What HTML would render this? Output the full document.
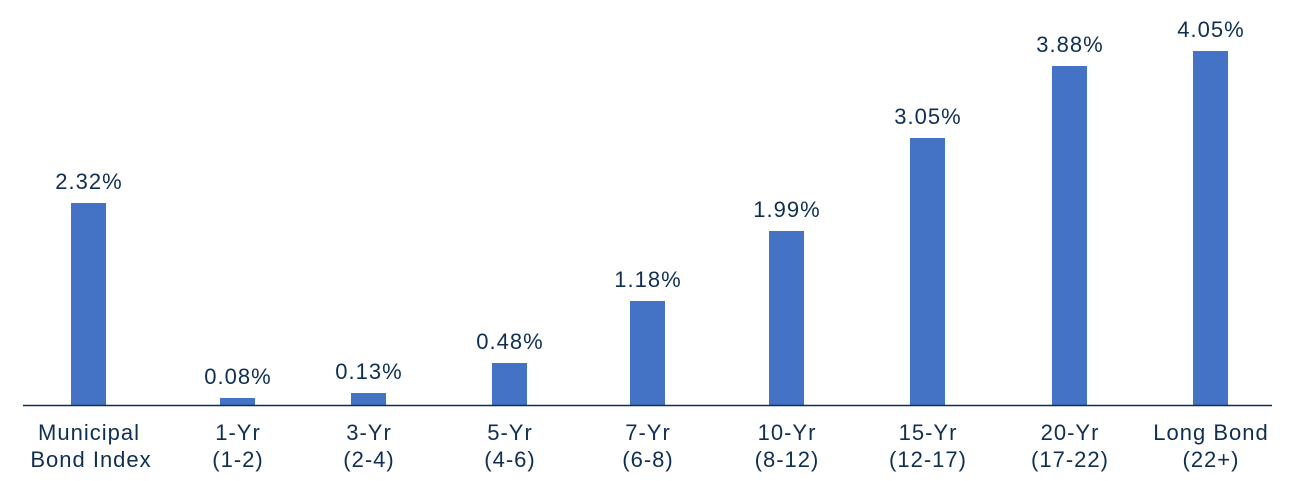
<!DOCTYPE html>
<html><head><meta charset="utf-8"><style>
html,body{margin:0;padding:0;background:#fff;width:1300px;height:481px;overflow:hidden}
text{font-family:"Liberation Sans",sans-serif;fill:#0f2f52;font-size:22px;letter-spacing:1px}
</style></head><body>
<svg width="1300" height="481" xmlns="http://www.w3.org/2000/svg">
<g fill="#4472c4">
<rect x="71" y="203" width="35" height="202"/>
<rect x="220" y="398" width="35" height="7"/>
<rect x="351" y="393" width="35" height="12"/>
<rect x="492" y="363" width="35" height="42"/>
<rect x="630" y="301" width="35" height="104"/>
<rect x="769" y="231" width="35" height="174"/>
<rect x="910" y="138" width="35" height="267"/>
<rect x="1052" y="66" width="35" height="339"/>
<rect x="1193" y="51" width="35" height="354"/>
</g>
<line x1="23" y1="405.5" x2="1272" y2="405.5" stroke="#0f2f52" stroke-width="1.5"/>
<g text-anchor="middle">
<text x="89" y="189">2.32%</text>
<text x="238" y="384">0.08%</text>
<text x="369" y="379">0.13%</text>
<text x="510" y="349">0.48%</text>
<text x="648" y="287">1.18%</text>
<text x="787" y="217">1.99%</text>
<text x="928" y="124">3.05%</text>
<text x="1070" y="52">3.88%</text>
<text x="1211" y="37">4.05%</text>

<text x="89" y="440">Municipal</text><text x="91" y="467">Bond Index</text>
<text x="238" y="440">1-Yr</text><text x="238" y="467">(1-2)</text>
<text x="369" y="440">3-Yr</text><text x="369" y="467">(2-4)</text>
<text x="510" y="440">5-Yr</text><text x="510" y="467">(4-6)</text>
<text x="648" y="440">7-Yr</text><text x="648" y="467">(6-8)</text>
<text x="787" y="440">10-Yr</text><text x="787" y="467">(8-12)</text>
<text x="928" y="440">15-Yr</text><text x="928" y="467">(12-17)</text>
<text x="1070" y="440">20-Yr</text><text x="1070" y="467">(17-22)</text>
<text x="1211" y="440">Long Bond</text><text x="1211" y="467">(22+)</text>
</g>
</svg>
</body></html>
